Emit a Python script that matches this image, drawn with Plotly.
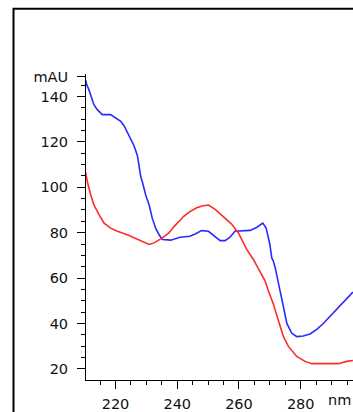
import plotly.graph_objects as go

# UV spectra (absorbance in mAU vs wavelength in nm)
blue_nm = [210.3, 210.7, 211.4, 212.2, 213.0, 214.1, 215.7, 218.4, 220.1, 221.7, 222.8, 223.8,
           224.9, 226.0, 227.1, 227.6, 228.2, 228.7, 229.8, 230.9, 231.9, 233.0, 234.1, 235.2,
           237.9, 240.9, 244.1, 245.8, 247.9, 250.1, 252.2, 253.9, 255.5, 257.1, 258.7, 260.9,
           263.6, 265.7, 267.7, 268.8, 269.5, 270.0, 270.6, 271.1, 271.7, 272.2, 273.3, 274.4,
           275.5, 277.1, 278.7, 280.8, 283.0, 285.2, 287.3, 289.5, 291.1, 293.3, 295.4, 296.9]
blue_mau = [147.3, 145.1, 142.9, 139.3, 136.4, 134.2, 132.0, 132.0, 130.6, 129.1, 127.0, 124.1,
            121.2, 118.3, 113.9, 109.6, 104.5, 102.3, 96.5, 92.2, 86.4, 82.0, 79.1, 77.0,
            76.7, 78.0, 78.4, 79.4, 80.9, 80.6, 78.4, 76.5, 76.5, 78.0, 80.6, 80.9,
            81.0, 82.3, 84.2, 82.0, 78.4, 74.8, 69.0, 67.6, 64.7, 61.7, 54.5, 47.3,
            40.0, 35.7, 34.2, 34.5, 35.4, 37.4, 40.0, 43.2, 45.1, 48.7, 51.6, 53.8]

red_nm = [210.3, 210.9, 212.0, 213.0, 214.7, 216.3, 218.4, 220.6, 223.8, 226.0, 228.7, 230.9,
          232.5, 235.2, 237.3, 239.0, 241.1, 242.0, 244.1, 246.3, 248.4, 250.1, 252.2, 254.9,
          257.6, 259.8, 260.9, 262.5, 264.6, 266.3, 267.4, 268.4, 269.5, 271.1, 272.7, 274.4,
          276.0, 278.7, 281.4, 283.6, 288.4, 292.2, 294.9, 296.9]
red_mau = [106.7, 102.3, 96.5, 92.2, 87.8, 84.2, 82.0, 80.6, 79.1, 77.7, 76.0, 74.8,
           75.5, 77.7, 79.9, 82.8, 85.7, 87.1, 89.3, 91.0, 91.9, 92.2, 90.4, 87.1,
           83.8, 79.9, 77.0, 72.6, 68.3, 63.9, 61.0, 58.9, 54.5, 48.7, 41.5, 34.2,
           29.9, 25.5, 23.3, 22.3, 22.3, 22.3, 23.3, 23.7]

x_ticks = [220, 240, 260, 280]
x_tick_text = ["220", "240", "260", "280"]
y_ticks = [20, 40, 60, 80, 100, 120, 140, 148.7]
y_tick_text = ["20", "40", "60", "80", "100", "120", "140", "mAU"]
x_minor = [215, 225, 230, 235, 245, 250, 255, 265, 270, 275, 285, 290, 295]
y_minor = [25, 30, 35, 45, 50, 55, 65, 70, 75, 85, 90, 95, 105, 110, 115,
           125, 130, 135, 145]

FONT = dict(family="DejaVu Sans", size=14.5, color="#111111")

fig = go.Figure()
fig.add_trace(go.Scatter(x=blue_nm, y=blue_mau, mode="lines",
                         line=dict(color="#2a2aff", width=1.6), showlegend=False))
fig.add_trace(go.Scatter(x=red_nm, y=red_mau, mode="lines",
                         line=dict(color="#ff2a2a", width=1.6), showlegend=False))

fig.update_xaxes(range=[210.44, 296.93], showgrid=False, zeroline=False,
                 showline=True, linecolor="black", linewidth=1,
                 tickmode="array", tickvals=x_ticks, ticktext=x_tick_text,
                 ticks="outside", ticklen=8, tickwidth=1, tickcolor="black",
                 tickfont=FONT, ticklabelstandoff=3,
                 minor=dict(tickmode="array", tickvals=x_minor, ticks="outside",
                            ticklen=4, tickwidth=1, tickcolor="black", showgrid=False))
fig.update_yaxes(range=[15.1, 149.9], showgrid=False, zeroline=False,
                 showline=True, linecolor="black", linewidth=1,
                 tickmode="array", tickvals=y_ticks, ticktext=y_tick_text,
                 ticks="outside", ticklen=8, tickwidth=1, tickcolor="black",
                 tickfont=FONT, ticklabelstandoff=6,
                 minor=dict(tickmode="array", tickvals=y_minor, ticks="outside",
                            ticklen=4, tickwidth=1, tickcolor="black", showgrid=False))

# unit label at the end of the wavelength axis
fig.add_annotation(text="nm", xref="paper", yref="paper", x=0.997, y=-0.066,
                   xanchor="right", yanchor="middle", showarrow=False, font=FONT,
                   borderpad=0)

# outer frame
fig.add_shape(type="rect", xref="paper", yref="paper",
              x0=-0.2715, y0=-1, x1=2, y1=1.2129,
              line=dict(color="black", width=2))

fig.update_layout(width=353, height=412,
                  margin=dict(l=86, r=0, t=74, b=28),
                  paper_bgcolor="white", plot_bgcolor="white")

fig.write_html("out.html")
